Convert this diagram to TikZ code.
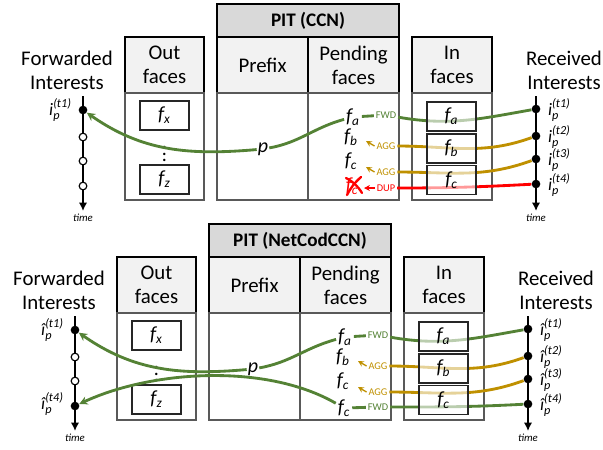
\documentclass[tikz,border=0pt]{standalone}
\usepackage{amsmath}
\usepackage{fontspec}
\setmainfont{Carlito}
\usetikzlibrary{arrows.meta}
\definecolor{fwdgreen}{HTML}{548235}
\definecolor{agggold}{HTML}{BF9000}
\definecolor{dupred}{HTML}{FF0000}

\pgfdeclarelayer{front}
\pgfsetlayers{main,front}

\newcommand{\ff}[1]{$\textit{f}_{\textit{#1}}$}
\newcommand{\ip}[2]{$\textit{#1}_{\textit{p}}^{\textit{(#2)}}$}

\tikzset{
  titlebox/.style={draw=black, line width=1.1pt, fill=gray!30},
  headbox/.style={draw=black, line width=1.1pt, fill=gray!10},
  bodybox/.style={draw=black!65, line width=0.9pt},
  headtext/.style={align=center, inner sep=1pt, font=\fontsize{12.5}{14.4}\selectfont},
  facebox/.style={draw=black!85, line width=0.7pt, minimum width=29.4pt, minimum height=17.4pt, inner sep=0pt, font=\fontsize{12}{14}\selectfont},
  infacebox/.style={facebox, fill=white, fill opacity=0.6, text opacity=1},
  pending/.style={inner sep=1pt, font=\fontsize{12}{14}\selectfont},
  tag/.style={inner sep=1pt, font=\fontsize{6.2}{7}\selectfont},
  timeline/.style={line width=1.5pt, -{Latex[length=5pt,width=5pt]}},
  timetext/.style={inner sep=0pt, font=\fontsize{6.5}{7}\selectfont\itshape},
  dotfull/.style={circle, fill=black, inner sep=0pt, minimum size=5.2pt},
  dotopen/.style={circle, draw=black, line width=0.7pt, fill=white, inner sep=0pt, minimum size=4.6pt},
  intext/.style={inner sep=0.5pt, font=\fontsize{10.5}{12}\selectfont},
  fwdline/.style={fwdgreen, line width=1.7pt},
  aggline/.style={agggold, line width=1.7pt},
  dupline/.style={dupred, line width=1.7pt},
  back/.style={-{Stealth[length=5pt,width=5pt]}},
  tagtip/.style={line width=0.8pt, -{Stealth[length=3.5pt,width=3.5pt]}},
}

% one PIT panel: #1 title, #2 name prefix, #3 interest letter, #4 style of last forwarded dot
\newcommand{\pitframe}[4]{%
  % PIT table
  \draw[titlebox] (217,4) rectangle (399,37);
  \node[font=\fontsize{11.5}{13}\selectfont\bfseries] (#2title) at (308,20.5) {#1};
  \draw[headbox] (217,37) rectangle (308,93);
  \draw[headbox] (308,37) rectangle (399,93);
  \draw[bodybox] (217,93) rectangle (308,200);
  \draw[bodybox] (308,93) rectangle (399,200);
  \node[headtext] (#2prefix) at (262.5,65) {Prefix};
  \node[headtext] (#2pending) at (353.5,65) {Pending\\faces};
  % Out faces
  \draw[headbox] (125,37) rectangle (204,93);
  \draw[bodybox] (125,93) rectangle (204,200);
  \node[headtext] (#2out) at (164.5,65) {Out\\faces};
  \node[facebox] (#2fx) at (164.5,115.5) {\ff{x}};
  \node[facebox] (#2fz) at (164.5,179.5) {\ff{z}};
  \node[inner sep=0pt, font=\fontsize{12}{14}\selectfont] (#2vdots) at (164.5,149) {$\vdots$};
  % In faces
  \draw[headbox] (412,37) rectangle (492,93);
  \draw[bodybox] (412,93) rectangle (492,200);
  \node[headtext] (#2in) at (452,65) {In\\faces};
  \begin{pgfonlayer}{front}
    \foreach \k/\y in {a/116.5,b/148.5,c/180}
      \node[infacebox] (#2in\k) at (451.5,\y) {\ff{\k}};
  \end{pgfonlayer}
  % time lines
  \node[headtext] (#2fwdtitle) at (67,70) {Forwarded\\Interests};
  \node[headtext] (#2rcvtitle) at (564,70) {Received\\Interests};
  \draw[timeline] (83,96) -- (83,211);
  \draw[timeline] (536,96) -- (536,211);
  \node[timetext] (#2ltime) at (83,218) {time};
  \node[timetext] (#2rtime) at (536,218) {time};
  \node[dotfull] (#2l1) at (83,110) {};
  \node[dotopen] (#2l2) at (83,137) {};
  \node[dotopen] (#2l3) at (83,161) {};
  \node[#4] (#2l4) at (83,186) {};
  \foreach \k/\y in {1/109,2/136,3/159,4/184} {
    \node[dotfull] (#2r\k) at (536,\y) {};
    \node[intext, anchor=west] (#2rl\k) at (547,\y+1) {\ip{#3}{t\k}};
  }
}

\begin{document}
\begin{tikzpicture}[x=0.6pt, y=-0.6pt]
  \useasboundingbox (0,0) rectangle (603,449);

  % ---- PIT (CCN)
  \pitframe{PIT (CCN)}{t}{i}{dotopen}
  \node[intext, anchor=east] (tll1) at (73,110) {\ip{i}{t1}};
  % pending faces
  \node[pending] (tpa) at (353,117) {\ff{a}};
  \node[pending] (tpb) at (351,137) {\ff{b}};
  \node[pending] (tpc) at (351,161) {\ff{c}};
  \node[pending, text=dupred] (tpd) at (352,186) {\ff{c}};
  \draw[dupred, line width=1.4pt, line cap=round] (346,178) to[bend left=15] (362,193);
  \draw[dupred, line width=1.4pt, line cap=round] (361,177) to[bend right=10] (347,195);
  % actions
  \node[tag, text=fwdgreen] (tfa) at (386,115) {FWD};
  \node[tag, text=agggold] (tgb) at (386,146) {AGG};
  \node[tag, text=agggold] (tgc) at (386,172) {AGG};
  \node[tag, text=dupred] (tdd) at (386,188) {DUP};
  \node[pending, inner sep=0.5pt] (tp) at (263,149) {\textit{p}};
  \coordinate (tgbtip) at (366,141);
  \coordinate (tgctip) at (366,167);
  \coordinate (tddtip) at (364,188);
  % interests
  \draw[fwdline] (tr1) to[out=190,in=-10] (tfa);
  \draw[fwdline] (tfa) -- (tpa);
  \draw[fwdline, back] (tpa) to[out=195,in=10] (tp) to[out=185,in=-35] (tl1);
  \draw[aggline] (tr2) to[out=200,in=0] (tgb);
  \draw[aggline] (tr3) to[out=200,in=0] (tgc);
  \draw[dupline] (tr4) to[out=183,in=0] (tdd);
  \draw[tagtip, agggold] (tgb.west) -- (tgbtip);
  \draw[tagtip, agggold] (tgc.west) -- (tgctip);
  \draw[tagtip, dupred] (tdd.west) -- (tddtip);

  % ---- PIT (NetCodCCN)
  \begin{scope}[shift={(-8,220)}]
  \pitframe{PIT (NetCodCCN)}{b}{î}{dotfull}
  \node[intext, anchor=east] (bll1) at (73,110) {\ip{î}{t1}};
  \node[intext, anchor=east] (bll4) at (73,184) {\ip{î}{t4}};
  % pending faces
  \node[pending] (bpa) at (353,117) {\ff{a}};
  \node[pending] (bpb) at (351,137) {\ff{b}};
  \node[pending] (bpc) at (351,161) {\ff{c}};
  \node[pending] (bpd) at (352,188) {\ff{c}};
  % actions
  \node[tag, text=fwdgreen] (bfa) at (386,115) {FWD};
  \node[tag, text=agggold] (bgb) at (386,146) {AGG};
  \node[tag, text=agggold] (bgc) at (386,172) {AGG};
  \node[tag, text=fwdgreen] (bfd) at (386,187) {FWD};
  \node[pending, inner sep=0.5pt] (bp) at (261,149) {\textit{p}};
  \coordinate (bgbtip) at (366,141);
  \coordinate (bgctip) at (366,167);
  % interests
  \draw[fwdline] (br1) to[out=190,in=-10] (bfa);
  \draw[fwdline] (bfa) -- (bpa);
  \draw[fwdline, back] (bpa) to[out=195,in=10] (bp) to[out=185,in=-35] (bl1);
  \draw[fwdline] (br4) to[out=183,in=0] (bfd);
  \draw[fwdline] (bfd) -- (bpd);
  \draw[fwdline, back] (bpd) to[out=150,in=25,looseness=0.8] (bl4);
  \draw[aggline] (br2) to[out=200,in=0] (bgb);
  \draw[aggline] (br3) to[out=200,in=0] (bgc);
  \draw[tagtip, agggold] (bgb.west) -- (bgbtip);
  \draw[tagtip, agggold] (bgc.west) -- (bgctip);
  \end{scope}
\end{tikzpicture}
\end{document}
